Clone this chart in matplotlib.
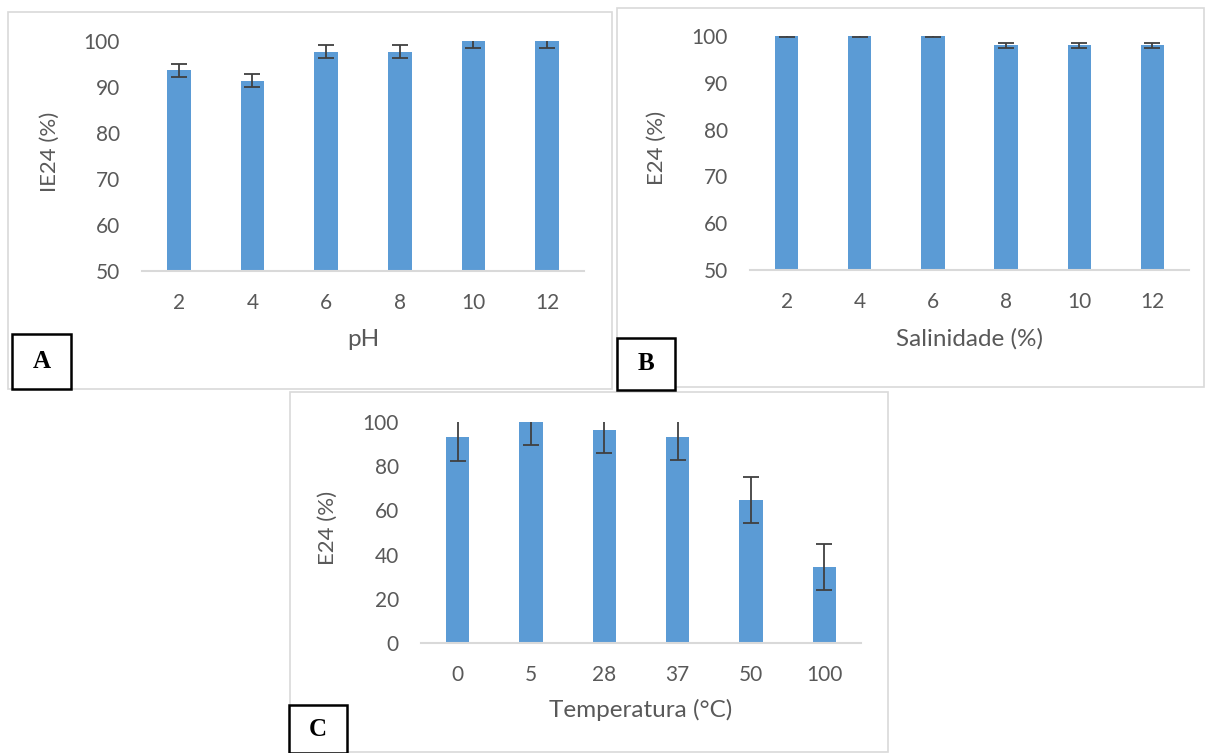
import matplotlib.pyplot as plt
from matplotlib.patches import Rectangle

# ---- data -------------------------------------------------------------
ph_labels = ["2", "4", "6", "8", "10", "12"]
ph_values = [93.6, 91.4, 97.7, 97.7, 100.0, 100.0]
ph_errors = [1.5, 1.5, 1.5, 1.5, 1.5, 1.5]

sal_labels = ["2", "4", "6", "8", "10", "12"]
sal_values = [100.0, 100.0, 100.0, 98.0, 98.0, 98.0]
sal_errors = [0.3, 0.3, 0.3, 0.5, 0.5, 0.5]

temp_labels = ["0", "5", "28", "37", "50", "100"]
temp_values = [93.0, 100.0, 96.5, 93.3, 64.8, 34.5]
temp_errors = [10.5, 10.5, 10.5, 10.3, 10.5, 10.5]

# ---- style ------------------------------------------------------------
plt.rcParams["font.family"] = ["Lato", "DejaVu Sans"]
BAR = "#5b9bd5"
TXT = "#595959"
GRID = "#d9d9d9"
W, H = 1205, 753

fig = plt.figure(figsize=(W / 100, H / 100), dpi=100)


def px_rect(x0, y0, x1, y1):
    # pixel box (top-left origin) -> figure fraction
    return [x0 / W, 1 - y1 / H, (x1 - x0) / W, (y1 - y0) / H]


def frame(x0, y0, x1, y1, color=GRID, lw=1.2):
    l, b, w, h = px_rect(x0, y0, x1, y1)
    fig.patches.append(Rectangle((l, b), w, h, transform=fig.transFigure,
                                 fill=False, edgecolor=color, linewidth=lw))


def letter_box(x0, y0, x1, y1, letter):
    l, b, w, h = px_rect(x0, y0, x1, y1)
    fig.patches.append(Rectangle((l, b), w, h, transform=fig.transFigure,
                                 facecolor="white", edgecolor="black",
                                 linewidth=1.8, zorder=5))
    fig.text(l + w / 2, b + h / 2, letter, ha="center", va="center",
             family="Liberation Serif", weight="bold", fontsize=18,
             color="black", zorder=6)


def bar_panel(rect, labels, values, errors, ylim, yticks, ylabel, xlabel,
              ylab_x, xlab_y, ylab_y=0.52):
    ax = fig.add_axes(px_rect(*rect))
    x = range(len(labels))
    ax.bar(x, values, width=0.32, color=BAR, zorder=2)
    ax.errorbar(x, values, yerr=errors, fmt="none", ecolor="#404040",
                elinewidth=1.3, capsize=6, capthick=1.3, zorder=3)
    ax.set_xlim(-0.5, len(labels) - 0.5)
    ax.set_ylim(*ylim)
    ax.set_yticks(yticks)
    ax.set_xticks(list(x))
    ax.set_xticklabels(labels)
    for s in ["top", "right", "left"]:
        ax.spines[s].set_visible(False)
    ax.spines["bottom"].set_color(GRID)
    ax.spines["bottom"].set_linewidth(1.5)
    ax.tick_params(axis="both", length=0, labelsize=15, colors=TXT)
    ax.tick_params(axis="x", pad=16)
    ax.tick_params(axis="y", pad=16)
    ax.set_ylabel(ylabel, fontsize=16, color=TXT)
    ax.set_xlabel(xlabel, fontsize=17.5, color=TXT)
    ax.yaxis.set_label_coords(ylab_x, ylab_y)
    ax.xaxis.set_label_coords(0.5, xlab_y)
    return ax


# panel frames
frame(8, 12, 612, 389)
frame(617, 8, 1204, 387)
frame(290, 392, 888, 752)

bar_panel((142, 41, 584, 271), ph_labels, ph_values, ph_errors,
          (50, 100), range(50, 101, 10), "IE24 (%)", "pH", -0.185, -0.25)
bar_panel((750, 36, 1189, 270), sal_labels, sal_values, sal_errors,
          (50, 100), range(50, 101, 10), "E24 (%)", "Salinidade (%)",
          -0.19, -0.25)
bar_panel((421, 422, 861, 643), temp_labels, temp_values, temp_errors,
          (0, 100), range(0, 101, 20), "E24 (%)", "Temperatura (°C)",
          -0.19, -0.255)

letter_box(12, 334, 71, 389, "A")
letter_box(617, 338, 675, 390, "B")
letter_box(289, 705, 347, 753, "C")

fig.savefig("out.png", dpi=100)
